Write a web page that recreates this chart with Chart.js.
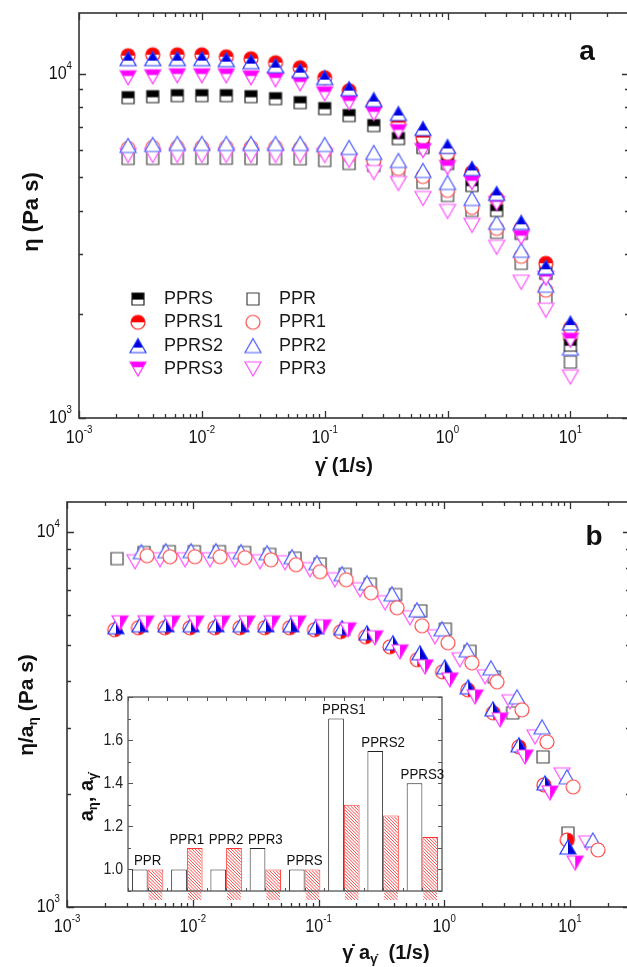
<!DOCTYPE html>
<html><head><meta charset="utf-8">
<script src="https://cdn.jsdelivr.net/npm/chart.js@4.4.1/dist/chart.umd.min.js"></script>
<style>
html,body{margin:0;padding:0;background:#fff;overflow:hidden;width:627px;height:967px;}
#wrap{position:relative;width:627px;height:967px;overflow:hidden;background:#fff;}
canvas{position:absolute;}
</style></head><body>
<div id="wrap">
<canvas id="ca" width="640" height="480" style="left:0;top:0;width:640px;height:480px"></canvas>
<canvas id="cb" width="640" height="487" style="left:0;top:480px;width:640px;height:487px"></canvas>
<canvas id="ci" width="400" height="225" style="left:60px;top:675px;width:400px;height:225px"></canvas>
</div>
<script>
// ---------- DATA: panel a (viscosity vs shear rate) ----------
const shearA = [0.00251, 0.00398, 0.00631, 0.01, 0.0158, 0.0251, 0.0398, 0.0631, 0.1, 0.158, 0.251, 0.398, 0.631, 1.0, 1.58, 2.51, 3.98, 6.31, 10];
const etaPPRS  = [8520, 8577, 8635, 8635, 8635, 8577, 8463, 8241, 7918, 7557, 7068, 6481, 6103, 5485, 4735, 4007, 3437, 2633, 1628];
const etaPPRS1 = [11277, 11350, 11350, 11350, 11200, 11053, 10763, 10410, 9736, 8925, 8077, 7211, 6524, 5863, 5164, 4341, 3553, 2814, 1823];
const etaPPRS2 = [11053, 11053, 11053, 11053, 10980, 10835, 10550, 10200, 9736, 9045, 8407, 7658, 6928, 6144, 5304, 4489, 3699, 2740, 1886];
const etaPPRS3 = [9736, 9802, 9867, 9867, 9867, 9736, 9607, 9354, 8750, 8241, 7658, 6791, 5982, 5340, 4831, 4199, 3346, 2546, 1683];
const etaPPR   = [5671, 5671, 5680, 5680, 5680, 5671, 5671, 5660, 5596, 5485, 5412, 5130, 4831, 4429, 4007, 3460, 2814, 2227, 1453];
const etaPPR1  = [6062, 6103, 6103, 6103, 6103, 6103, 6103, 6062, 5982, 5785, 5596, 5304, 5028, 4580, 4088, 3553, 2948, 2350, 1717];
const etaPPR2  = [6185, 6227, 6269, 6269, 6269, 6269, 6269, 6269, 6227, 6103, 5902, 5596, 5234, 4831, 4341, 3699, 3069, 2430, 1596];
const etaPPR3  = [5785, 5785, 5785, 5785, 5785, 5785, 5785, 5785, 5785, 5596, 5164, 4799, 4341, 3981, 3626, 3131, 2479, 2056, 1315];

// ---------- DATA: panel b (reduced master curves) ----------
const xbPPR   = [0.0025, 0.0041, 0.0065, 0.0103, 0.0163, 0.0258, 0.0409, 0.065, 0.103, 0.163, 0.258, 0.41, 0.65, 1.02, 1.6, 2.5, 3.5, 6.1, 9.64];
const ybPPR   = [8475, 8800, 8850, 8850, 8850, 8800, 8700, 8500, 8200, 7700, 7250, 6800, 6150, 5500, 4800, 4100, 3290, 2512, 1574];
const xbPPR1  = [0.00433, 0.00659, 0.0104, 0.0165, 0.026, 0.0419, 0.0662, 0.103, 0.166, 0.262, 0.421, 0.665, 1.07, 1.66, 2.63, 4.15, 6.56, 10.6, 16.7];
const ybPPR1  = [8630, 8577, 8577, 8577, 8524, 8419, 8166, 7824, 7447, 6876, 6271, 5614, 5058, 4473, 3981, 3353, 2754, 2089, 1419];
const xbPPR2  = [0.0039, 0.0061, 0.0097, 0.0153, 0.0242, 0.039, 0.0616, 0.097, 0.154, 0.243, 0.384, 0.607, 0.96, 1.52, 2.35, 3.79, 5.99, 9.46, 15.2];
const ybPPR2  = [8845, 8898, 8898, 8898, 8845, 8790, 8577, 8267, 7727, 7311, 6832, 6194, 5511, 4845, 4337, 3631, 3020, 2222, 1509];
const xbPPR3  = [0.00347, 0.00549, 0.00868, 0.0137, 0.0217, 0.0343, 0.0541, 0.0856, 0.135, 0.214, 0.338, 0.534, 0.844, 1.33, 2.11, 3.33, 5.27, 8.64, 13.6];
const ybPPR3  = [8318, 8419, 8419, 8419, 8419, 8318, 8267, 7920, 7447, 7003, 6465, 5897, 5248, 4557, 4105, 3522, 2840, 2249, 1481];
const xbPPRS1 = [0.0024, 0.0037, 0.006, 0.0095, 0.015, 0.0237, 0.0374, 0.059, 0.093, 0.15, 0.237, 0.37, 0.61, 0.97, 1.54, 2.45, 3.93, 6.2, 9.5];
const ybPPRS1 = [5478, 5546, 5546, 5546, 5546, 5546, 5546, 5546, 5478, 5412, 5248, 4935, 4557, 4233, 3790, 3291, 2671, 2115, 1509];
const xbPPRS2 = [0.00245, 0.00381, 0.00613, 0.00969, 0.0153, 0.0242, 0.0382, 0.0604, 0.0955, 0.154, 0.243, 0.391, 0.641, 1.01, 1.55, 2.44, 3.93, 6.33, 9.64];
const ybPPRS2 = [5580, 5649, 5649, 5649, 5649, 5649, 5649, 5649, 5580, 5546, 5379, 5058, 4757, 4365, 3861, 3373, 2704, 2141, 1445];
const xbPPRS3 = [0.00264, 0.00425, 0.00684, 0.0106, 0.0171, 0.027, 0.0427, 0.0687, 0.109, 0.172, 0.281, 0.445, 0.703, 1.11, 1.76, 2.78, 4.39, 6.94, 11.0];
const ybPPRS3 = [5719, 5719, 5719, 5719, 5719, 5719, 5719, 5719, 5580, 5478, 5216, 4786, 4365, 4030, 3631, 3153, 2512, 2014, 1310];

// ---------- DATA: inset (shift factors) ----------
const barCats = ['PPR', 'PPR1', 'PPR2', 'PPR3', 'PPRS', 'PPRS1', 'PPRS2', 'PPRS3'];
const aEta    = [1.0, 1.0, 1.0, 1.1, 1.0, 1.7, 1.55, 1.4];
const aGamma  = [1.0, 1.1, 1.1, 1.0, 1.0, 1.3, 1.25, 1.15];

// ---------- tick labels ----------
const xTickVals = [0.001, 0.01, 0.1, 1, 10];
const xTickExps = ['-3', '-2', '-1', '0', '1'];
const yTickVals = [1000, 10000];
const yTickExps = ['3', '4'];
const insetTickVals = [1.0, 1.2, 1.4, 1.6, 1.8];
const insetTickLabels = ['1.0', '1.2', '1.4', '1.6', '1.8'];

const FONT = "'Liberation Sans', Arial, sans-serif";
Chart.defaults.font.family = FONT;

// ---------- marker factory ----------
function makeMarker(shape, fillColor, strokeColor, mode, frac) {
  let w, h;
  if (shape === 'square') { w = 12; h = 12; }
  else if (shape === 'circle') { w = 14; h = 14; }
  else { w = 16; h = 14; }
  const c = document.createElement('canvas');
  c.width = w + 4; c.height = h + 4;
  const g = c.getContext('2d');
  const ox = 2, oy = 2;
  function path() {
    g.beginPath();
    if (shape === 'square') g.rect(ox, oy, w, h);
    else if (shape === 'circle') g.arc(ox + w / 2, oy + h / 2, w / 2, 0, Math.PI * 2);
    else if (shape === 'up') { g.moveTo(ox + w / 2, oy); g.lineTo(ox + w, oy + h); g.lineTo(ox, oy + h); g.closePath(); }
    else { g.moveTo(ox, oy); g.lineTo(ox + w, oy); g.lineTo(ox + w / 2, oy + h); g.closePath(); }
  }
  path(); g.fillStyle = '#fff'; g.fill();
  if (mode !== 'none') {
    g.save(); path(); g.clip(); g.fillStyle = fillColor;
    if (mode === 'top') g.fillRect(0, 0, c.width, oy + h * frac);
    else g.fillRect(ox + w / 2, 0, c.width, c.height);
    g.restore();
  }
  path(); g.strokeStyle = strokeColor; g.lineWidth = 1.2; g.stroke();
  return c;
}

const M = {
  PPRS:  makeMarker('square', '#000', '#222', 'top', 0.55),
  PPRS1: makeMarker('circle', '#ff0000', '#ff1a1a', 'top', 0.5),
  PPRS2: makeMarker('up', '#0000e0', '#2238ff', 'top', 0.64),
  PPRS3: makeMarker('down', '#ff00ff', '#ff33ff', 'top', 0.38),
  PPR:   makeMarker('square', '#444', '#444', 'none'),
  PPR1:  makeMarker('circle', '#ff4a4a', '#ff4a4a', 'none'),
  PPR2:  makeMarker('up', '#4a5cff', '#4a5cff', 'none'),
  PPR3:  makeMarker('down', '#ff55ff', '#ff55ff', 'none'),
  bPPRS1: makeMarker('circle', '#ff0000', '#ff2a2a', 'right'),
  bPPRS2: makeMarker('up', '#0000d0', '#2238ff', 'right'),
  bPPRS3: makeMarker('down', '#ff00ff', '#ff33ff', 'right')
};

function pts(xs, ys) { return xs.map((x, i) => ({ x: x, y: ys[i] })); }
function ds(label, xs, ys, marker) {
  return { label: label, data: pts(xs, ys), pointStyle: marker, pointRadius: 7, showLine: false, clip: false };
}

// ---------- rich text helper ----------
function drawRich(ctx, segs, x, y, o) {
  const size = o.size, wt = o.bold ? 'bold ' : '', sx = o.sx || 1;
  ctx.save();
  ctx.translate(x, y);
  if (o.rot) ctx.rotate(o.rot);
  ctx.scale(sx, 1);
  ctx.fillStyle = o.color || '#111';
  ctx.textBaseline = 'middle';
  ctx.textAlign = 'left';
  const parts = segs.map(s => {
    const sz = s.k ? size * (o.small || 0.62) : size;
    ctx.font = wt + sz + 'px ' + FONT;
    return { t: s.t, k: s.k, sz: sz, w: ctx.measureText(s.t).width };
  });
  const W = parts.reduce((a, p) => a + p.w, 0);
  let cx = o.align === 'right' ? -W : (o.align === 'left' ? 0 : -W / 2);
  for (const p of parts) {
    ctx.font = wt + p.sz + 'px ' + FONT;
    const dy = p.k === 'sup' ? -size * 0.42 : (p.k === 'sub' ? size * 0.32 : 0);
    ctx.fillText(p.t, cx, dy);
    cx += p.w;
  }
  ctx.restore();
}

function frameAndTicks(chart) {
  const ctx = chart.ctx, a = chart.chartArea, xs = chart.scales.x, ys = chart.scales.y;
  ctx.save();
  ctx.strokeStyle = '#333';
  ctx.lineWidth = 1.6;
  ctx.strokeRect(a.left, a.top, a.right - a.left, a.bottom - a.top);
  ctx.lineWidth = 1.3;
  ctx.beginPath();
  const xd0 = Math.floor(Math.log10(xs.min)), xd1 = Math.ceil(Math.log10(xs.max));
  for (let d = xd0; d <= xd1; d++) for (let m = 1; m <= 9; m++) {
    const v = m * Math.pow(10, d);
    if (v < xs.min * 0.999 || v > xs.max * 1.001) continue;
    const p = Math.round(xs.getPixelForValue(v)) + 0.5, L = m === 1 ? 7 : 4;
    ctx.moveTo(p, a.bottom); ctx.lineTo(p, a.bottom - L);
    ctx.moveTo(p, a.top); ctx.lineTo(p, a.top + L);
  }
  const yd0 = Math.floor(Math.log10(ys.min)), yd1 = Math.ceil(Math.log10(ys.max));
  for (let d = yd0; d <= yd1; d++) for (let m = 1; m <= 9; m++) {
    const v = m * Math.pow(10, d);
    if (v < ys.min * 0.999 || v > ys.max * 1.001) continue;
    const p = Math.round(ys.getPixelForValue(v)) + 0.5, L = m === 1 ? 7 : 4;
    ctx.moveTo(a.left, p); ctx.lineTo(a.left + L, p);
    ctx.moveTo(a.right, p); ctx.lineTo(a.right - L, p);
  }
  ctx.stroke();
  ctx.restore();
  // tick labels
  xTickVals.forEach((v, i) => {
    drawRich(ctx, [{ t: '10' }, { t: xTickExps[i], k: 'sup' }], xs.getPixelForValue(v), a.bottom + 20, { size: 19, sx: 0.85, small: 0.6 });
  });
  yTickVals.forEach((v, i) => {
    drawRich(ctx, [{ t: '10' }, { t: yTickExps[i], k: 'sup' }], a.left - 7, ys.getPixelForValue(v), { size: 19, sx: 0.85, small: 0.6, align: 'right' });
  });
}

const commonOpts = (pad, ymax) => ({
  responsive: false, animation: false, events: [],
  layout: { padding: pad },
  plugins: { legend: { display: false }, tooltip: { enabled: false } },
  scales: {
    x: { type: 'logarithmic', min: 0.001, max: 30, display: false },
    y: { type: 'logarithmic', min: 1000, max: ymax, display: false }
  }
});

// ---------- Panel a ----------
const legendItems = [
  ['PPRS', M.PPRS, 0, 0], ['PPRS1', M.PPRS1, 0, 1], ['PPRS2', M.PPRS2, 0, 2], ['PPRS3', M.PPRS3, 0, 3],
  ['PPR', M.PPR, 1, 0], ['PPR1', M.PPR1, 1, 1], ['PPR2', M.PPR2, 1, 2], ['PPR3', M.PPR3, 1, 3]
];
new Chart(document.getElementById('ca'), {
  type: 'scatter',
  data: { datasets: [
    ds('PPRS2', shearA, etaPPRS2, M.PPRS2),
    ds('PPRS3', shearA, etaPPRS3, M.PPRS3),
    ds('PPRS1', shearA, etaPPRS1, M.PPRS1),
    ds('PPRS', shearA, etaPPRS, M.PPRS),
    ds('PPR2', shearA, etaPPR2, M.PPR2),
    ds('PPR3', shearA, etaPPR3, M.PPR3),
    ds('PPR1', shearA, etaPPR1, M.PPR1),
    ds('PPR', shearA, etaPPR, M.PPR)
  ] },
  options: commonOpts({ left: 79, right: 11, top: 13, bottom: 62 }, 15000),
  plugins: [{
    id: 'decoA',
    afterDraw(chart) {
      const ctx = chart.ctx;
      frameAndTicks(chart);
      drawRich(ctx, [{ t: 'γ\u0307 (1/s)' }], 344, 466, { size: 20, bold: true });
      drawRich(ctx, [{ t: 'η (Pa s)' }], 32, 212, { size: 22, bold: true, rot: -Math.PI / 2 });
      drawRich(ctx, [{ t: 'a' }], 587, 52, { size: 28, bold: true });
      legendItems.forEach(it => {
        const mx = it[2] === 0 ? 138 : 253, tx = it[2] === 0 ? 164 : 279, yy = 299 + it[3] * 23.3;
        ctx.drawImage(it[1], mx - it[1].width / 2, yy - it[1].height / 2);
        drawRich(ctx, [{ t: it[0] }], tx, yy, { size: 18, align: 'left', color: '#1a1a1a' });
      });
    }
  }]
});

// ---------- Panel b ----------
new Chart(document.getElementById('cb'), {
  type: 'scatter',
  data: { datasets: [
    ds('PPRS3', xbPPRS3, ybPPRS3, M.bPPRS3),
    ds('PPRS2', xbPPRS2, ybPPRS2, M.bPPRS2),
    ds('PPRS1', xbPPRS1, ybPPRS1, M.bPPRS1),
    ds('PPR1', xbPPR1, ybPPR1, M.PPR1),
    ds('PPR2', xbPPR2, ybPPR2, M.PPR2),
    ds('PPR3', xbPPR3, ybPPR3, M.PPR3),
    ds('PPR', xbPPR, ybPPR, M.PPR)
  ] },
  options: commonOpts({ left: 67, right: 10, top: 22, bottom: 60 }, 12000),
  plugins: [{
    id: 'decoB',
    afterDraw(chart) {
      const ctx = chart.ctx;
      frameAndTicks(chart);
      drawRich(ctx, [{ t: 'γ\u0307 a' }, { t: 'γ\u0307', k: 'sub' }, { t: '  (1/s)' }], 386, 473, { size: 20, bold: true, small: 0.65 });
      drawRich(ctx, [{ t: 'η/a' }, { t: 'η', k: 'sub' }, { t: ' (Pa s)' }], 27, 225, { size: 21, bold: true, rot: -Math.PI / 2, small: 0.65 });
      drawRich(ctx, [{ t: 'b' }], 594, 57, { size: 28, bold: true });
    }
  }]
});

// ---------- Inset ----------
new Chart(document.getElementById('ci'), {
  type: 'bar',
  data: { labels: barCats, datasets: [
    { label: 'a_eta', data: aEta, backgroundColor: '#ffffff', borderColor: '#222', borderWidth: 1, borderSkipped: 'start', categoryPercentage: 0.8, barPercentage: 1.0 },
    { label: 'a_gamma', data: aGamma, backgroundColor: '#ffffff', borderColor: '#ff3030', borderWidth: 1, borderSkipped: 'start', categoryPercentage: 0.8, barPercentage: 1.0 }
  ] },
  options: {
    responsive: false, animation: false, events: [],
    layout: { padding: { left: 68, right: 18, top: 22, bottom: 9 } },
    plugins: { legend: { display: false }, tooltip: { enabled: false } },
    scales: {
      x: { display: false },
      y: { display: false, min: 0.9, max: 1.8, beginAtZero: false }
    }
  },
  plugins: [{
    id: 'decoI',
    beforeDatasetsDraw(chart) {
      const ctx = chart.ctx, a = chart.chartArea;
      ctx.save(); ctx.fillStyle = '#fff'; ctx.fillRect(a.left, a.top, a.right - a.left, a.bottom - a.top); ctx.restore();
    },
    afterDatasetsDraw(chart) {
      // red diagonal hatching inside the library-drawn a_gamma bars
      const ctx = chart.ctx, meta = chart.getDatasetMeta(1);
      ctx.save();
      ctx.strokeStyle = '#ff4848';
      ctx.lineWidth = 1;
      meta.data.forEach(el => {
        const p = el.getProps(['x', 'y', 'base', 'width'], true);
        const l = p.x - p.width / 2 + 1, r = p.x + p.width / 2 - 1, t = p.y + 1, b = p.base;
        ctx.save();
        ctx.beginPath(); ctx.rect(l, t, r - l, b - t); ctx.clip();
        ctx.beginPath();
        for (let k = -(b - t); k < (r - l) + 4; k += 3.2) {
          ctx.moveTo(l + k, t); ctx.lineTo(l + k + (b - t), b);
        }
        ctx.stroke();
        ctx.restore();
      });
      ctx.restore();
    },
    afterDraw(chart) {
      const ctx = chart.ctx, a = chart.chartArea, xs = chart.scales.x, ys = chart.scales.y;
      ctx.save();
      ctx.strokeStyle = '#555'; ctx.lineWidth = 1.3;
      ctx.strokeRect(a.left, a.top, a.right - a.left, a.bottom - a.top);
      ctx.lineWidth = 1; ctx.beginPath();
      for (let k = 9; k <= 18; k++) {
        const v = k / 10, p = Math.round(ys.getPixelForValue(v)) + 0.5, L = (k % 2 === 0) ? 5 : 3;
        ctx.moveTo(a.left, p); ctx.lineTo(a.left + L, p);
        ctx.moveTo(a.right, p); ctx.lineTo(a.right - 4, p);
      }
      const half = (a.right - a.left) / barCats.length / 2;
      barCats.forEach((c, i) => {
        const cx = xs.getPixelForValue(i);
        [cx - half, cx].forEach(px => {
          const p = Math.round(px) + 0.5;
          ctx.moveTo(p, a.top); ctx.lineTo(p, a.top + 4);
          ctx.moveTo(p, a.bottom); ctx.lineTo(p, a.bottom - 3);
        });
      });
      ctx.stroke();
      ctx.restore();
      insetTickVals.forEach((v, i) => {
        drawRich(ctx, [{ t: insetTickLabels[i] }], a.left - 5, ys.getPixelForValue(v), { size: 16, sx: 0.88, align: 'right', color: '#222' });
      });
      barCats.forEach((c, i) => {
        const top = Math.min(ys.getPixelForValue(aEta[i]), ys.getPixelForValue(aGamma[i]));
        drawRich(ctx, [{ t: c }], xs.getPixelForValue(i), top - 8, { size: 14, sx: 0.95, color: '#111' });
      });
      drawRich(ctx, [{ t: 'a' }, { t: 'η', k: 'sub' }, { t: ', a' }, { t: 'γ\u0307', k: 'sub' }], 27, 122, { size: 20, bold: true, rot: -Math.PI / 2, small: 0.65 });
    }
  }]
});
</script>
</body></html>
